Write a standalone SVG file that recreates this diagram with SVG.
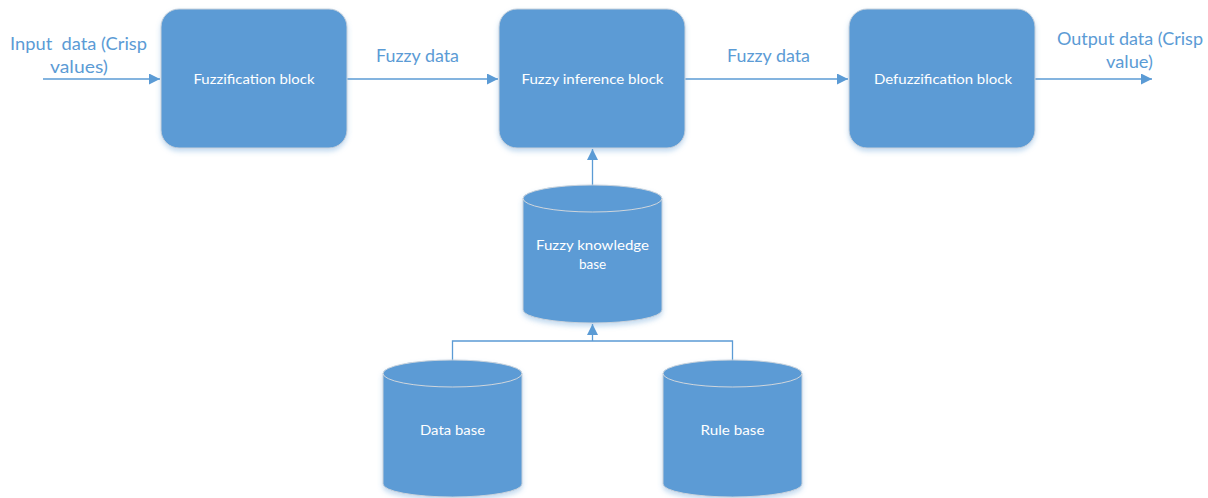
<svg xmlns="http://www.w3.org/2000/svg" width="1208" height="498" viewBox="0 0 1208 498">
<defs>
<filter id="sh" x="-20%" y="-20%" width="140%" height="150%">
<feDropShadow dx="0" dy="3" stdDeviation="2.5" flood-color="#5B9BD5" flood-opacity="0.35"/>
</filter>
<marker id="ah" markerUnits="userSpaceOnUse" markerWidth="12" markerHeight="11" refX="11" refY="5.5" orient="auto">
<path d="M0,0 L11,5.5 L0,11 z" fill="#5B9BD5"/>
</marker>
</defs>
<style>
.box{fill:#5B9BD5;stroke:#C8D2DC;stroke-width:1;filter:url(#sh)}
.cyl{fill:#5B9BD5;stroke:#C8D2DC;stroke-width:1;filter:url(#sh)}
.rim{fill:none;stroke:#D0D6DC;stroke-width:1}
.in{font-family:Lato,"Liberation Sans",sans-serif;font-size:13.5px;fill:#FFFFFF;text-anchor:middle}
.lbl{font-family:Lato,"Liberation Sans",sans-serif;font-size:16.5px;fill:#5B9BD5;text-anchor:middle;white-space:pre}
.c{fill:none;stroke:#5B9BD5;stroke-width:1.5}
.c2{fill:none;stroke:#5B9BD5;stroke-width:1.3}
</style>
<g id="connectors">
<path class="c" d="M43,79 H160" marker-end="url(#ah)"/>
<path class="c" d="M347,79 H498" marker-end="url(#ah)"/>
<path class="c" d="M685,79 H848" marker-end="url(#ah)"/>
<path class="c" d="M1035,79 H1152" marker-end="url(#ah)"/>
<path class="c2" d="M592.5,185 V149" marker-end="url(#ah)"/>
<path class="c2" d="M452.5,360 V341 H732.5 V360"/>
<path class="c2" d="M592.5,341 V324" marker-end="url(#ah)"/>
</g>
<g id="label-input">
<text class="lbl" x="78.5" y="50" textLength="137" lengthAdjust="spacingAndGlyphs" xml:space="preserve">Input  data (Crisp</text>
<text class="lbl" x="79" y="73" textLength="58" lengthAdjust="spacingAndGlyphs">values)</text>
</g>
<g id="label-fuzzy1"><text class="lbl" x="417.5" y="62" textLength="83" lengthAdjust="spacingAndGlyphs">Fuzzy data</text></g>
<g id="label-fuzzy2"><text class="lbl" x="768.5" y="62" textLength="83" lengthAdjust="spacingAndGlyphs">Fuzzy data</text></g>
<g id="label-output">
<text class="lbl" x="1130" y="45" textLength="146" lengthAdjust="spacingAndGlyphs">Output data (Crisp</text>
<text class="lbl" x="1129.5" y="68" textLength="47" lengthAdjust="spacingAndGlyphs">value)</text>
</g>
<g id="fuzzification">
<rect class="box" x="161" y="9" width="186" height="139" rx="18"/>
<text class="in" x="254" y="84" textLength="121" lengthAdjust="spacingAndGlyphs">Fuzzification block</text>
</g>
<g id="inference">
<rect class="box" x="499" y="9" width="186" height="139" rx="18"/>
<text class="in" x="592.5" y="84" textLength="142" lengthAdjust="spacingAndGlyphs">Fuzzy inference block</text>
</g>
<g id="defuzzification">
<rect class="box" x="849" y="9" width="186" height="139" rx="18"/>
<text class="in" x="943" y="84" textLength="138" lengthAdjust="spacingAndGlyphs">Defuzzification block</text>
</g>
<g id="knowledge-base">
<path class="cyl" d="M523,198.5 A69.5,13.5 0 0 1 662,198.5 V310 A69.5,13 0 0 1 523,310 Z"/>
<path class="rim" d="M523,198.5 A69.5,13.5 0 0 0 662,198.5"/>
<text class="in" x="592.5" y="250" textLength="113" lengthAdjust="spacingAndGlyphs">Fuzzy knowledge</text>
<text class="in" x="592.5" y="269">base</text>
</g>
<g id="data-base">
<path class="cyl" d="M383,373.5 A69.5,13.5 0 0 1 522,373.5 V484 A69.5,13 0 0 1 383,484 Z"/>
<path class="rim" d="M383,373.5 A69.5,13.5 0 0 0 522,373.5"/>
<text class="in" x="452.5" y="435" textLength="65" lengthAdjust="spacingAndGlyphs">Data base</text>
</g>
<g id="rule-base">
<path class="cyl" d="M663,373.5 A69.5,13.5 0 0 1 802,373.5 V484 A69.5,13 0 0 1 663,484 Z"/>
<path class="rim" d="M663,373.5 A69.5,13.5 0 0 0 802,373.5"/>
<text class="in" x="732.5" y="435" textLength="64" lengthAdjust="spacingAndGlyphs">Rule base</text>
</g>
</svg>
